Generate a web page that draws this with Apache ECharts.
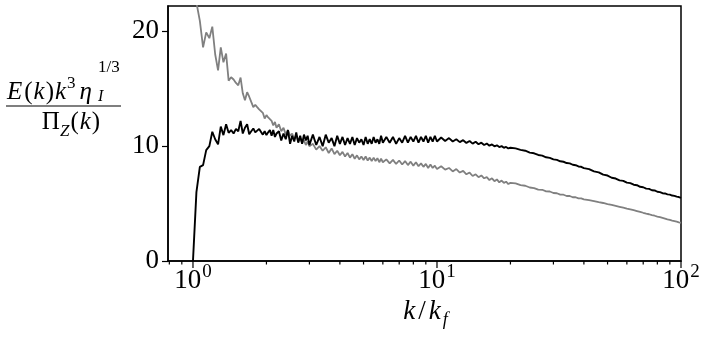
<!DOCTYPE html>
<html><head><meta charset="utf-8">
<script src="https://cdn.jsdelivr.net/npm/echarts@6/dist/echarts.min.js"></script>
<style>html,body{margin:0;padding:0;background:#fff}#c{width:706px;height:339px}</style>
</head><body><div id="c"></div>
<script>
// k / k_f
const kValues = [
 1.000,1.033,1.067,1.100,1.133,1.167,1.200,1.233,1.267,1.300,1.333,1.367,1.400,1.433,1.467,1.500,1.533,1.567,1.600,1.633,1.667,1.700,1.733,1.767,1.800,1.833,1.867,1.900,1.933,1.967,2.000,2.033,2.067,2.100,2.133,2.167,2.200,
 2.25,2.30,2.35,2.40,2.45,2.50,2.55,2.60,2.65,2.70,2.75,2.80,2.85,2.90,2.95,3.00,
 3.1,3.2,3.3,3.4,3.5,3.6,3.7,3.8,3.9,4.0,4.1,4.2,4.3,4.4,4.5,4.6,4.7,4.8,4.9,5.0,5.1,5.2,5.3,5.4,5.5,5.6,5.7,5.8,5.9,6.0,
 6.2,6.4,6.6,6.8,7.0,7.2,7.4,7.6,7.8,8.0,8.2,8.4,8.6,8.8,9.0,9.2,9.4,9.6,9.8,10.0,
 10.4,10.8,11.2,11.6,12.0,12.4,12.8,13.2,13.6,14.0,14.4,14.8,15.2,15.6,16.0,16.4,16.8,17.2,17.6,18.0,18.4,18.8,19.2,19.6,20.0,
 21,22,23,24,25,26,27,28,29,30,31,32,33,34,35,36,37,38,39,40,
 42,44,46,48,50,52,54,56,58,60,62,64,66,68,70,72,74,76,78,80,82,84,86,88,90,92,94,96,98,100
];
// black curve
const blackValues = [
 0,6.0,8.2,8.35,9.65,10.0,11.25,10.6,10.15,11.7,10.96,11.9,11.16,11.4,11.1,11.5,11.3,12.2,11.1,11.6,11.9,11.04,11.3,11.54,11.2,11.16,11.5,11.54,11.0,11.3,10.96,11.2,11.4,10.9,11.4,10.8,11.1,
 11.3,10.5,11.1,10.6,11.4,10.2,10.9,10.4,11.2,10.3,10.9,10.2,11.0,10.5,10.9,10.1,
 11.0,10.1,10.8,10.0,11.0,10.3,10.7,10.0,10.9,10.2,10.8,10.1,10.7,10.2,10.8,10.1,10.7,10.3,10.6,10.1,10.8,10.2,10.6,10.2,10.8,10.3,10.6,10.2,10.9,10.3,
 10.8,10.3,10.8,10.2,10.7,10.3,10.9,10.3,10.8,10.4,10.9,10.3,10.8,10.4,10.9,10.3,10.8,10.4,10.9,10.4,
 10.75,10.45,10.7,10.4,10.6,10.35,10.52,10.28,10.45,10.22,10.38,10.16,10.3,10.1,10.22,10.04,10.15,9.98,10.07,9.92,10.0,9.86,9.93,9.8,9.86,
 9.8,9.68,9.6,9.44,9.38,9.23,9.17,9.03,8.98,8.85,8.8,8.68,8.64,8.53,8.5,8.38,8.34,8.23,8.2,8.08,
 8.0,7.8,7.72,7.52,7.44,7.25,7.18,7.02,6.98,6.82,6.78,6.64,6.6,6.46,6.42,6.3,6.28,6.16,6.14,6.03,6.0,5.9,5.88,5.8,5.78,5.7,5.67,5.6,5.57,5.5
];
// gray curve
const grayValues = [
 27,22.5,20.9,18.6,19.9,19.4,20.4,18.0,16.6,18.6,17.3,18.06,15.7,16.0,15.8,15.5,15.3,15.97,14.6,14.0,14.7,14.3,13.85,13.4,13.6,13.4,13.2,13.1,12.9,12.4,12.7,12.5,12.5,12.2,11.8,12.1,11.6,
 11.9,11.3,11.6,11.0,11.4,10.9,11.1,10.6,10.9,10.4,10.7,10.3,10.5,10.1,10.4,10.0,
 10.2,9.7,10.0,9.6,9.9,9.4,9.8,9.3,9.6,9.2,9.5,9.1,9.4,9.0,9.3,8.9,9.2,8.85,9.1,8.8,9.1,8.75,9.0,8.7,9.0,8.7,8.95,8.6,8.9,8.6,
 8.85,8.5,8.8,8.45,8.75,8.4,8.7,8.35,8.65,8.3,8.6,8.25,8.5,8.2,8.45,8.1,8.4,8.1,8.3,8.0,
 8.25,7.95,8.1,7.8,8.0,7.7,7.85,7.55,7.7,7.4,7.55,7.3,7.45,7.2,7.3,7.05,7.2,6.95,7.1,6.85,7.0,6.8,6.9,6.7,6.8,
 6.75,6.6,6.55,6.4,6.35,6.22,6.2,6.06,6.05,5.92,5.9,5.78,5.77,5.66,5.66,5.55,5.55,5.45,5.45,5.37,
 5.3,5.22,5.13,5.05,4.96,4.88,4.8,4.72,4.64,4.56,4.49,4.42,4.35,4.28,4.2,4.13,4.07,4.0,3.94,3.87,3.81,3.75,3.69,3.63,3.58,3.52,3.47,3.42,3.37,3.33
];
const xMajorTicks = [1, 10, 100];
const xTickExponents = ['0', '1', '2'];
const xMinorTicks = [0.8, 0.9, 2, 3, 4, 5, 6, 7, 8, 9, 20, 30, 40, 50, 60, 70, 80, 90];
const yTicks = [0, 10, 20];

const SERIF = '"Liberation Serif", "DejaVu Serif", serif';
const chart = echarts.init(document.getElementById('c'), null, {renderer: 'canvas'});
const tickData = xMajorTicks.map(v => [v, 0, 1]).concat(xMinorTicks.map(v => [v, 0, 0]));

chart.setOption({
  animation: false,
  backgroundColor: '#fff',
  grid: {left: 168, right: 25, top: 6, bottom: 78, show: true, borderColor: '#000', borderWidth: 1.5, backgroundColor: 'transparent'},
  xAxis: {
    type: 'log', logBase: 10, min: 0.79, max: 100,
    axisLine: {show: true, lineStyle: {color: '#000', width: 1.5}},
    axisTick: {show: false},
    splitLine: {show: false},
    axisLabel: {
      showMinLabel: false, showMaxLabel: true, margin: 2, color: '#000',
      formatter: function (v) {
        const i = xMajorTicks.findIndex(t => Math.abs(t - v) / t < 1e-6);
        if (i < 0) return '';
        return '{b|10}{s|' + xTickExponents[i] + '}';
      },
      rich: {
        b: {fontFamily: SERIF, fontSize: 27, color: '#000', lineHeight: 31, verticalAlign: 'bottom'},
        s: {fontFamily: SERIF, fontSize: 19, color: '#000', lineHeight: 12, verticalAlign: 'top', padding: [0, 0, 0, 1]}
      }
    },
    name: '{i|k}{n|/}{i|k}{sub|f}',
    nameLocation: 'middle', nameGap: 26,
    nameTextStyle: {
      rich: {
        i: {fontFamily: SERIF, fontStyle: 'italic', fontSize: 27, color: '#000', lineHeight: 30, verticalAlign: 'top', padding: [0, 2, 0, 2]},
        n: {fontFamily: SERIF, fontSize: 27, color: '#000', lineHeight: 30, verticalAlign: 'top', padding: [0, 1, 0, 1]},
        sub: {fontFamily: SERIF, fontStyle: 'italic', fontSize: 18, color: '#000', lineHeight: 16, verticalAlign: 'bottom'}
      }
    }
  },
  yAxis: {
    type: 'value', min: 0, max: 22.2,
    axisLine: {show: true, lineStyle: {color: '#000', width: 1.5}},
    axisTick: {show: true, customValues: yTicks, length: 6, lineStyle: {color: '#000', width: 1.2}},
    axisLabel: {customValues: yTicks, margin: 9, color: '#000', fontFamily: SERIF, fontSize: 27},
    splitLine: {show: false}
  },
  graphic: [
    {type: 'text', x: 7, y: 75, style: {
      text: '{e|E}{n|(}{i|k}{n|)}{i|k}{sup|3}{h|η}',
      textAlign: 'left', textVerticalAlign: 'top',
      rich: {
        e: {fontFamily: SERIF, fontStyle: 'italic', fontSize: 25, fill: '#000', lineHeight: 30, verticalAlign: 'bottom', padding: [0, 2, 0, 0]},
        i: {fontFamily: SERIF, fontStyle: 'italic', fontSize: 25, fill: '#000', lineHeight: 30, verticalAlign: 'bottom', padding: [0, 1, 0, 1]},
        h: {fontFamily: SERIF, fontStyle: 'italic', fontSize: 25, fill: '#000', lineHeight: 30, verticalAlign: 'bottom', padding: [0, 0, 0, 4]},
        n: {fontFamily: SERIF, fontSize: 25, fill: '#000', lineHeight: 30, verticalAlign: 'bottom'},
        sup: {fontFamily: SERIF, fontSize: 17, fill: '#000', lineHeight: 14, verticalAlign: 'top'}
      }
    }},
    {type: 'text', x: 98, y: 59, style: {text: '1/3', font: '17px ' + SERIF, fill: '#000', textAlign: 'left', textVerticalAlign: 'top'}},
    {type: 'text', x: 98, y: 89, style: {text: 'I', font: 'italic 16px ' + SERIF, fill: '#000', textAlign: 'left', textVerticalAlign: 'top'}},
    {type: 'line', shape: {x1: 6, y1: 106, x2: 121, y2: 106}, style: {stroke: '#000', lineWidth: 1.2}},
    {type: 'text', x: 71, y: 110, style: {
      text: '{n|Π}{sub|Z}{n|(}{i|k}{n|)}',
      textAlign: 'center', textVerticalAlign: 'top',
      rich: {
        i: {fontFamily: SERIF, fontStyle: 'italic', fontSize: 25, fill: '#000', lineHeight: 30, verticalAlign: 'top', padding: [0, 1, 0, 1]},
        n: {fontFamily: SERIF, fontSize: 25, fill: '#000', lineHeight: 30, verticalAlign: 'top'},
        sub: {fontFamily: SERIF, fontStyle: 'italic', fontSize: 17, fill: '#000', lineHeight: 14, verticalAlign: 'bottom', padding: [0, 1, 0, 0]}
      }
    }}
  ],
  series: [
    {type: 'line', data: kValues.map((k, i) => [k, grayValues[i]]), showSymbol: false, symbol: 'none',
     lineStyle: {color: '#808080', width: 1.8}, z: 2},
    {type: 'line', data: kValues.map((k, i) => [k, blackValues[i]]), showSymbol: false, symbol: 'none',
     lineStyle: {color: '#000', width: 1.9}, z: 3},
    {type: 'custom', data: tickData, clip: false, silent: true, z: 5, encode: {x: 0, y: 1},
     renderItem: function (params, api) {
       const p = api.coord([api.value(0), api.value(1)]);
       const len = api.value(2) ? 7 : 3.5;
       return {type: 'line', shape: {x1: p[0], y1: p[1], x2: p[0], y2: p[1] + len},
               style: {stroke: '#000', lineWidth: 1.2}};
     }}
  ]
});
</script></body></html>
